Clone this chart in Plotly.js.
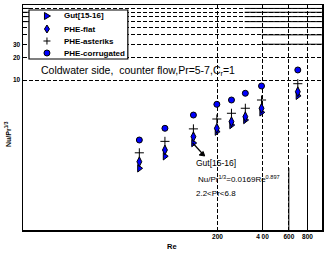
<!DOCTYPE html>
<html><head><meta charset="utf-8">
<script src="https://cdn.plot.ly/plotly-3.0.1.min.js"></script>
<style>html,body{margin:0;padding:0;background:#fff}#c{width:333px;height:254px}</style>
</head><body><div id="c"></div><script>
// ---- data ----
const re = [60, 89, 138, 198, 248, 307, 394, 689];
const gut = [0.665, 0.962, 1.445, 2.05, 2.51, 2.93, 3.71, 6.16];
const flat = [0.814, 1.166, 1.754, 2.27, 2.78, 3.24, 4.2, 6.98];
const asterisk = [1.07, 1.52, 2.23, 3.02, 3.6, 4.2, 5.41, 8.93];
const corrugated = [1.585, 2.27, 3.41, 4.74, 5.41, 6.65, 8.32, 13.6];
const seriesNames = ['Gut[15-16]', 'PHE-flat', 'PHE-asteriks', 'PHE-corrugated'];
const xTicks = [200, 400, 600, 800];
const xTickText = ['200', '4 00', '600', '800'];
const yTicks = [10, 20, 30];
const yTickText = ['10', '20', '30'];
const yMinorGrid = [40, 50, 60, 70, 80, 90];

// ---- geometry helpers (pixel -> paper) ----
const L = 23, R = 322.5, T = 5, B = 230;
const W = R - L, H = B - T;
const px = x => (x - L) / W;
const py = y => (B - y) / H;
const FONT = 'Liberation Sans, Arial, sans-serif';
const BLUE = '#0000ff';

const mk = (sym, size, extra) => Object.assign({
  symbol: sym, size: size, color: BLUE, line: {color: '#000', width: 1}
}, extra || {});

const traces = [
  {x: re, y: gut, name: seriesNames[0], mode: 'markers', marker: mk('triangle-right', 6.5)},
  {x: re, y: flat, name: seriesNames[1], mode: 'markers', marker: mk('diamond-tall', 7)},
  {x: re, y: asterisk, name: seriesNames[2], mode: 'markers',
   marker: {symbol: 'cross-thin-open', size: 6.5, color: '#000', line: {color: '#000', width: 1}}},
  {x: re, y: corrugated, name: seriesNames[3], mode: 'markers', marker: mk('circle', 6)}
];

const xp = v => (Math.log10(v) - 1) / 2;   // x axis range 10..1000
const yp = v => (Math.log10(v) + 1) / 3;   // y axis range 0.1..100

const shapes = [];
[[400, 178], [600, 168], [800, 157]].forEach(([v, y]) => {
  shapes.push({type: 'line', xref: 'paper', yref: 'paper', x0: xp(v), x1: xp(v), y0: 0, y1: py(y),
    line: {color: '#000', width: 1}});
});
[50, 60, 70, 80, 90].forEach(v => {
  shapes.push({type: 'line', xref: 'paper', yref: 'paper', x0: px(245), x1: 1, y0: yp(v), y1: yp(v),
    line: {color: '#000', width: 1}});
  if (v >= 60) shapes.push({type: 'line', xref: 'paper', yref: 'paper', x0: 0, x1: px(29), y0: yp(v), y1: yp(v),
    line: {color: '#000', width: 1}});
});
[30, 40].forEach(v => {
  shapes.push({type: 'line', xref: 'paper', yref: 'paper', x0: px(262), x1: 1, y0: yp(v), y1: yp(v),
    line: {color: '#000', width: 1}});
});
// legend box
shapes.push({type: 'rect', xref: 'paper', yref: 'paper', x0: px(29), x1: px(128), y0: py(59), y1: py(10),
  fillcolor: '#fff', line: {color: '#000', width: 1.2}, layer: 'above'});
// legend symbols
const legY = [16, 29, 41, 53];
const legX = px(47);
const symBase = (y) => ({xref: 'paper', yref: 'paper', xsizemode: 'pixel', ysizemode: 'pixel',
  xanchor: legX, yanchor: py(y), layer: 'above'});
shapes.push(Object.assign(symBase(legY[0]), {type: 'path', path: 'M-2.5,-3.5 L3.5,0 L-2.5,3.5 Z',
  fillcolor: BLUE, line: {color: '#000', width: 1}}));
shapes.push(Object.assign(symBase(legY[1]), {type: 'path', path: 'M0,-4 L2.5,0 L0,4 L-2.5,0 Z',
  fillcolor: BLUE, line: {color: '#000', width: 1}}));
shapes.push(Object.assign(symBase(legY[2]), {type: 'path', path: 'M-3.5,0 L3.5,0 M0,-3.5 L0,3.5',
  line: {color: '#000', width: 1}}));
shapes.push(Object.assign(symBase(legY[3]), {type: 'circle', x0: -3, x1: 3, y0: -3, y1: 3,
  fillcolor: BLUE, line: {color: '#000', width: 1}}));
// arrow from the Gut point to its label
shapes.push({type: 'line', xref: 'paper', yref: 'paper', x0: px(193), y0: py(143), x1: px(204), y1: py(155),
  line: {color: '#000', width: 1.2}});
shapes.push({type: 'path', xref: 'paper', yref: 'paper', xsizemode: 'pixel', ysizemode: 'pixel',
  xanchor: px(205), yanchor: py(156), path: 'M0,0 L-5.5,1 L-1.5,4.5 Z', fillcolor: '#000',
  line: {color: '#000', width: 1}});

const ann = (text, x, y, size, extra) => Object.assign({
  text: text, xref: 'paper', yref: 'paper', x: px(x), y: py(y), xanchor: 'left', yanchor: 'middle',
  showarrow: false, font: {family: FONT, size: size, color: '#000'}
}, extra || {});

const annotations = [];
seriesNames.forEach((n, i) => annotations.push(ann('<b>' + n + '</b>', 62, legY[i], 8)));
annotations.push(ann('Coldwater side,  counter flow,Pr=5-7,C<sub>r</sub>=1', 39, 71, 10.5));
annotations.push(ann('Gut[15-16]', 194, 163, 8.5));
annotations.push(ann('Nu/Pr<sup>1/3</sup>=0.0169Re<sup>0.897</sup>', 196, 179, 8));
annotations.push(ann('2.2&lt;Pr&lt;6.8', 194, 193, 8));
annotations.push(ann('<b>Nu/Pr<sup>1/3</sup></b>', 8, 134, 7, {textangle: -90, xanchor: 'center'}));
annotations.push(ann('<b>Re</b>', 165, 246, 7.5));

const axCommon = {
  type: 'log', showline: true, mirror: true, linecolor: '#000', linewidth: 1.5,
  showgrid: true, gridcolor: '#000', gridwidth: 1, griddash: '4px,2px',
  zeroline: false, ticks: '', tickmode: 'array',
  tickfont: {family: FONT, size: 6.5, color: '#000', weight: 'bold'}
};

const layout = {
  width: 333, height: 254,
  margin: {l: L, r: 333 - R, t: T, b: 254 - B, pad: 0},
  paper_bgcolor: '#fff', plot_bgcolor: '#fff',
  showlegend: false,
  xaxis: Object.assign({}, axCommon, {range: [1, 3], tickvals: xTicks, ticktext: xTickText}),
  yaxis: Object.assign({}, axCommon, {range: [-1, 2], tickvals: yTicks, ticktext: yTickText,
    minor: {tickmode: 'array', tickvals: yMinorGrid, showgrid: true, gridcolor: '#000', gridwidth: 1,
      griddash: '4px,2px', ticks: ''}}),
  shapes: shapes,
  annotations: annotations
};

Plotly.newPlot('c', traces, layout, {staticPlot: true, displayModeBar: false});
</script></body></html>
